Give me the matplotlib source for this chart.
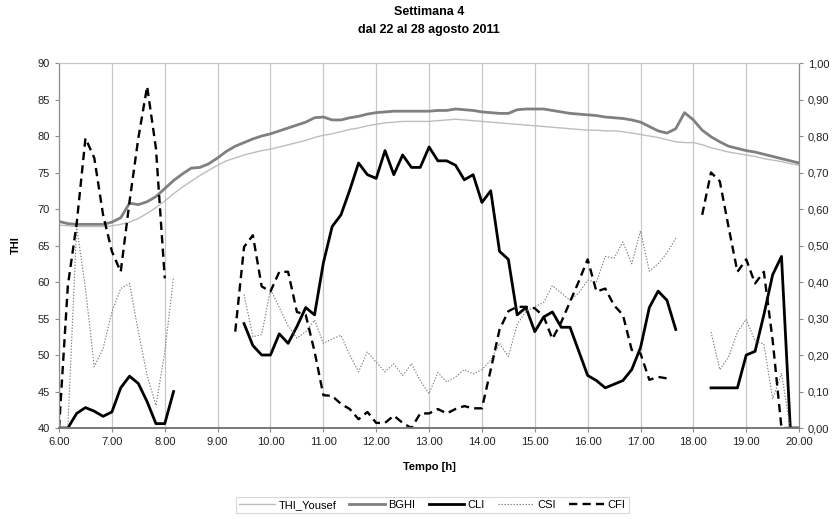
import numpy as np
import matplotlib
matplotlib.use("Agg")
import matplotlib.pyplot as plt

plt.rcParams['font.family'] = ['Liberation Sans', 'DejaVu Sans']

nan = np.nan

# time axis, one reading every 10 minutes from 6.00 to 20.00
ore = np.arange(85) / 6.0 + 6.0

thi_yousef = [67.8, 67.7, 67.6, 67.6, 67.6, 67.6, 67.7, 67.9, 68.2, 68.7, 69.4, 70.2,
              71.1, 72.1, 73.0, 73.8, 74.6, 75.3, 76.0, 76.6, 77.0, 77.4, 77.7, 78.0,
              78.2, 78.5, 78.8, 79.1, 79.4, 79.8, 80.1, 80.3, 80.6, 80.9, 81.1, 81.4,
              81.6, 81.8, 81.9, 82.0, 82.0, 82.0, 82.0, 82.1, 82.2, 82.3, 82.2, 82.1,
              82.0, 81.9, 81.8, 81.7, 81.6, 81.5, 81.4, 81.3, 81.2, 81.1, 81.0, 80.9,
              80.8, 80.8, 80.7, 80.7, 80.6, 80.4, 80.2, 80.0, 79.8, 79.5, 79.2, 79.1,
              79.1, 78.8, 78.4, 78.1, 77.8, 77.6, 77.4, 77.2, 76.9, 76.7, 76.5, 76.2,
              76.0]

bghi = [68.3, 68.0, 67.9, 67.9, 67.9, 67.9, 68.2, 68.8, 70.8, 70.6, 71.0, 71.7,
        72.8, 73.9, 74.8, 75.6, 75.7, 76.2, 77.0, 77.9, 78.6, 79.1, 79.6, 80.0,
        80.3, 80.7, 81.1, 81.5, 81.9, 82.5, 82.6, 82.2, 82.2, 82.5, 82.7, 83.0,
        83.2, 83.3, 83.4, 83.4, 83.4, 83.4, 83.4, 83.5, 83.5, 83.7, 83.6, 83.5,
        83.3, 83.2, 83.1, 83.1, 83.6, 83.7, 83.7, 83.7, 83.5, 83.3, 83.1, 83.0,
        82.9, 82.8, 82.6, 82.5, 82.4, 82.2, 81.9, 81.3, 80.7, 80.4, 81.0, 83.2,
        82.2, 80.8, 79.9, 79.2, 78.6, 78.3, 78.0, 77.8, 77.5, 77.2, 76.9, 76.6,
        76.3]

cli = [0, 0, 0.04, 0.056, 0.046, 0.032, 0.044, 0.11, 0.142, 0.122, 0.072, 0.012,
       0.012, 0.10,
       nan, nan, nan, nan, nan, nan, nan,
       0.286, 0.226, 0.20, 0.20, 0.258, 0.232, 0.278, 0.33, 0.31, 0.452, 0.552, 0.584,
       0.652, 0.726, 0.694, 0.684, 0.76, 0.694, 0.748, 0.714, 0.714, 0.77, 0.732, 0.732,
       0.72, 0.68, 0.694, 0.618, 0.65, 0.484, 0.462, 0.31, 0.33, 0.264, 0.304, 0.318,
       0.276, 0.276, 0.21, 0.144, 0.13, 0.11, 0.12, 0.13, 0.16, 0.22, 0.33, 0.375,
       0.35, 0.27,
       nan, nan, nan,
       0.11, 0.11, 0.11, 0.11, 0.20, 0.21, 0.31, 0.42, 0.47, 0.0, 0.0]

csi = [0, 0, 0.552, 0.382, 0.168, 0.218, 0.318, 0.382, 0.396, 0.264, 0.144, 0.062,
       0.208, 0.414,
       nan, nan, nan, nan, nan, nan, nan,
       0.366, 0.25, 0.256, 0.38, 0.33, 0.28, 0.246, 0.264, 0.296, 0.232, 0.244, 0.254,
       0.20, 0.154, 0.208, 0.18, 0.154, 0.176, 0.144, 0.176, 0.13, 0.094, 0.152, 0.126,
       0.14, 0.16, 0.148, 0.16, 0.186, 0.232, 0.196, 0.284, 0.32, 0.332, 0.344, 0.39,
       0.37, 0.35, 0.37, 0.405, 0.40, 0.47, 0.465, 0.51, 0.45, 0.54, 0.43, 0.45,
       0.48, 0.52,
       nan, nan, nan,
       0.263, 0.16, 0.195, 0.263, 0.298, 0.238, 0.23, 0.08, 0.15, 0.0, nan]

cfi = [0, 0.39, 0.56, 0.794, 0.74, 0.584, 0.484, 0.428, 0.62, 0.794, 0.936, 0.766,
       0.41, nan,
       nan, nan, nan, nan, nan, nan,
       0.264,
       0.496, 0.528, 0.388, 0.374, 0.428, 0.428, 0.318, 0.31, 0.21, 0.09, 0.088, 0.066,
       0.052, 0.024, 0.044, 0.014, 0.014, 0.034, 0.014, 0.0, 0.04, 0.04, 0.052, 0.04,
       0.052, 0.06, 0.054, 0.054, 0.16, 0.27, 0.32, 0.332, 0.332, 0.328, 0.306, 0.244,
       0.29, 0.346, 0.402, 0.462, 0.374, 0.382, 0.336, 0.31, 0.214, 0.204, 0.132, 0.14,
       0.136,
       nan, nan, nan,
       0.584, 0.70, 0.676, 0.55, 0.428, 0.462, 0.396, 0.428, 0.24, 0.0, 0.0, nan]

ore_ticks = list(range(6, 21))
thi_ticks = list(range(40, 95, 5))
idx_ticks = [i / 10 for i in range(11)]

fig = plt.figure(figsize=(8.35, 5.19), dpi=100)
ax = fig.add_axes([0.0707, 0.1753, 0.8863, 0.7033])
ax2 = ax.twinx()

l1, = ax.plot(ore, thi_yousef, color='#bdbdbd', lw=1.0, label='THI_Yousef')
l2, = ax.plot(ore, bghi, color='#808080', lw=2.0, label='BGHI')
l3, = ax2.plot(ore, np.array(cli, float), color='black', lw=2.0, label='CLI')
l4, = ax2.plot(ore, np.array(csi, float), color='#7a7a7a', lw=0.8, dashes=(1.2, 1.5), label='CSI')
l5, = ax2.plot(ore, np.array(cfi, float), color='black', lw=1.7, dashes=(3.5, 2.2), label='CFI')

ax.set_xlim(6, 20)
ax.set_ylim(40, 90)
ax2.set_ylim(0, 1)
ax.set_xticks(ore_ticks)
ax.set_xticklabels(['%d.00' % h for h in ore_ticks])
ax.set_yticks(thi_ticks)
ax2.set_yticks(idx_ticks)
ax2.set_yticklabels([('%.2f' % v).replace('.', ',') for v in idx_ticks])

ax.grid(axis='x', color='#c8c8c8', lw=0.9)
ax.set_axisbelow(True)

for a in (ax, ax2):
    for s in a.spines.values():
        s.set_color('#8c8c8c')
    a.spines['top'].set_color('#c8c8c8')
    a.spines['bottom'].set_color('#7a7a7a')
    a.spines['bottom'].set_linewidth(1.3)
    a.tick_params(labelsize=8, colors='#8c8c8c', labelcolor='#222222', length=3, width=0.8)

ax.set_ylabel('THI', fontsize=8, fontweight='bold', labelpad=12)
ax.set_xlabel('Tempo [h]', fontsize=8, fontweight='bold', labelpad=11)
fig.text(0.514, 0.988, 'Settimana 4\ndal 22 al 28 agosto 2011', ha='center', va='top',
         fontsize=9, fontweight='bold', linespacing=1.6)

leg = fig.legend(handles=[l1, l2, l3, l4, l5], loc='lower center', bbox_to_anchor=(0.518, 0.0),
                 ncol=5, fontsize=8, frameon=True, fancybox=False, handlelength=3.2,
                 columnspacing=1.2, handletextpad=0.3, borderpad=0.3)
leg.get_frame().set_edgecolor('#d0d0d0')
leg.get_frame().set_linewidth(0.8)

fig.savefig('out.png', dpi=100)
